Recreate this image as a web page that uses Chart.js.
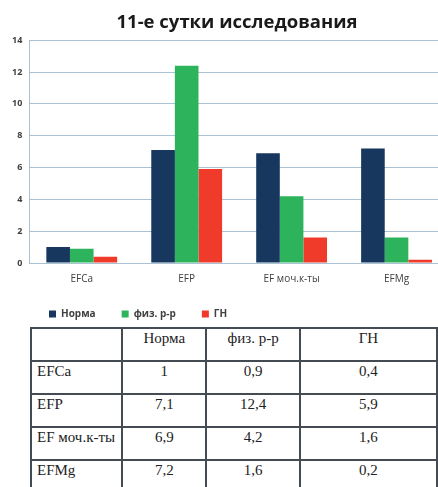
<!DOCTYPE html>
<html lang="ru">

<head>
  <meta charset="utf-8">
  <meta name="viewport" content="width=device-width, initial-scale=1">
  <style>
    body {
      margin: 0;
      background-color: #ffffff;
      overflow: hidden;
      width: 438px;
      height: 487px;
      position: relative;
    }

    .chart-container {
      position: absolute;
      left: 0;
      top: 0;
      width: 473px;
      height: 341px;
    }

    #dataTable {
      position: absolute;
      left: 30px;
      top: 327px;
      border-collapse: collapse;
      font-family: "Liberation Serif", "Times New Roman", serif;
      font-size: 15px;
      color: #222;
      background-color: #ffffff;
    }

    #dataTable td {
      border: 2px solid #444b52;
      padding: 1px 5px 0 5px;
      vertical-align: top;
      text-align: center;
      height: 30px;
    }

    #dataTable td.rowhead {
      text-align: left;
    }
  </style>
</head>

<body>
  <div class="chart-container">
    <canvas id="myChart"></canvas>
  </div>

  <table id="dataTable"></table>

  <script src="https://cdn.jsdelivr.net/npm/chart.js"></script>
  <script>

    const categories = ['EFCa', 'EFP', 'EF моч.к-ты', 'EFMg'];
    const seriesNames = ['Норма', 'физ. р-р', 'ГН'];
    const norma = [1, 7.1, 6.9, 7.2];
    const fizRr = [0.9, 12.4, 4.2, 1.6];
    const gn = [0.4, 5.9, 1.6, 0.2];
    const COLORS = ['#17375e', '#2cb35b', '#f03b2b'];

    buildChart();
    buildTable();

    /* ------------------------------------------------ */

    function buildChart() {
      const ctx = document.getElementById('myChart').getContext('2d');
      const values = [norma, fizRr, gn];

      let datasets = seriesNames.map((name, i) => ({
        label: name,
        data: values[i],
        backgroundColor: COLORS[i],
        borderWidth: 0,
        categoryPercentage: 0.675,
        barPercentage: 1.0
      }));

      // nudge legend and title like in the original picture
      const shiftBoxes = {
        id: 'shiftBoxes',
        afterLayout(chart) {
          chart.legend.left += 18;
          chart.legend.right += 18;
          chart.legend.top -= 12;
          chart.legend.bottom -= 12;
          chart.titleBlock.left += 10;
          chart.titleBlock.right += 10;
        }
      };

      new Chart(ctx, {
        type: 'bar',
        data: { labels: categories, datasets: datasets },
        plugins: [shiftBoxes],
        options: {
          responsive: true,
          maintainAspectRatio: false,
          animation: false,
          layout: {
            padding: { left: 5, right: 24, top: 0, bottom: 0 }
          },
          scales: {
            x: {
              grid: { display: false, drawTicks: false, tickLength: 0 },
              border: { display: true, color: '#a9c2d4', width: 1 },
              ticks: {
                color: '#404040',
                padding: 10,
                font: { family: 'Open Sans', size: 10 }
              }
            },
            y: {
              min: 0,
              max: 14,
              ticks: {
                stepSize: 2,
                color: '#404040',
                padding: 7,
                font: { family: 'Open Sans', size: 9, weight: 'bold' }
              },
              grid: { color: '#a9c2d4', lineWidth: 1, drawTicks: false, tickLength: 0 },
              border: { display: true, color: '#a9c2d4', width: 1 }
            }
          },
          plugins: {
            title: {
              display: true,
              text: '11-е сутки исследования',
              color: '#1a1a1a',
              font: { family: 'Open Sans', size: 18.5, weight: 'bold' },
              padding: { top: 12, bottom: 6 }
            },
            legend: {
              display: true,
              position: 'bottom',
              align: 'start',
              labels: {
                boxWidth: 7,
                boxHeight: 7,
                padding: 26,
                color: '#404040',
                font: { family: 'Open Sans', size: 10, weight: 'bold' }
              }
            },
            tooltip: { enabled: false }
          }
        }
      });
    }

    /* ------------------------------------------------ */

    function buildTable() {
      const table = document.getElementById('dataTable');
      const values = [norma, fizRr, gn];
      const widths = [96, 88, 100, 150];
      const fmt = v => String(v).replace('.', ',');

      let html = '<tr>';
      ['', ...seriesNames].forEach((h, i) => {
        html += `<td style="width:${widths[i] - 12}px">${h}</td>`;
      });
      html += '</tr>';

      categories.forEach((cat, r) => {
        html += `<tr><td class="rowhead">${cat}</td>`;
        values.forEach(series => {
          html += `<td>${fmt(series[r])}</td>`;
        });
        html += '</tr>';
      });

      table.innerHTML = html;
    }

  </script>
</body>

</html>
